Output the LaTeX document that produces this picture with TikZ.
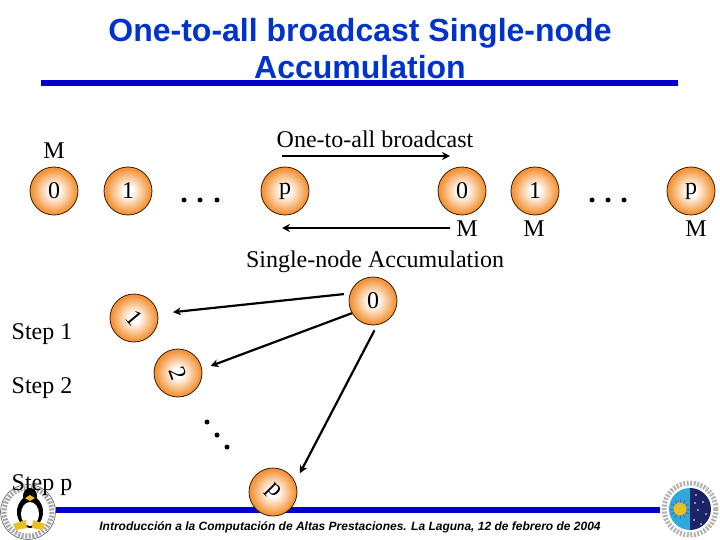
\documentclass[tikz,border=0pt]{standalone}
\usepackage{fontspec}
\setmainfont{Liberation Serif}
\newfontfamily\headfont{Liberation Sans}
\usetikzlibrary{arrows.meta}
\definecolor{BarBlue}{HTML}{0000CC}
\definecolor{TitleBlue}{HTML}{0033CC}
\definecolor{ProcOrange}{HTML}{F4953A}
\definecolor{ProcEdge}{HTML}{3A1A00}
\definecolor{LogoSky}{HTML}{2FA8DC}
\definecolor{LogoNavy}{HTML}{1B2466}
\definecolor{LogoGold}{HTML}{E8C020}
\pgfdeclareradialshading{procglow}{\pgfpoint{0bp}{0bp}}{%
  color(0bp)=(white);color(5bp)=(white);color(23bp)=(ProcOrange);color(50bp)=(ProcOrange)}
\tikzset{
  proc/.style={circle,draw=ProcEdge,line width=0.8pt,minimum size=48pt,inner sep=0pt,
               shading=procglow,font=\fontsize{24}{28}\selectfont},
  label/.style={font=\fontsize{24}{28}\selectfont,inner sep=0pt},
  headline/.style={text=TitleBlue,align=center,inner sep=0pt,
                   font=\headfont\fontsize{32}{37}\selectfont\bfseries},
  footline/.style={inner sep=0pt,font=\headfont\fontsize{12}{14}\selectfont\bfseries\itshape},
  flow/.style={-{Stealth[length=8pt,width=8pt]},black,line width=2.2pt},
  bar/.style={BarBlue,line width=6pt},
  dotmark/.style={fill=black,draw=none,circle,minimum size=5pt,inner sep=0pt},
}
\begin{document}
\begin{tikzpicture}[x=1pt,y=-1pt]
  \useasboundingbox (0,0) rectangle (720,540);

  \node[headline] (title) at (360,49) {One-to-all broadcast Single-node\\Accumulation};
  \draw[bar] (41,83.5) -- (678,83.5);
  \draw[bar] (50,510) -- (665,510);

  % upper row
  \node[label] (topm) at (54,151) {M};
  \node[proc] (na0) at (54,191) {0};
  \node[proc] (na1) at (128,191) {1};
  \node[proc] (nap) at (285,191) {p};
  \node[proc] (nb0) at (462,191) {0};
  \node[proc] (nb1) at (535,191) {1};
  \node[proc] (nbp) at (691,191) {p};
  \node[label] (mb0) at (467,229) {M};
  \node[label] (mb1) at (534,229) {M};
  \node[label] (mbp) at (696,229) {M};
  \foreach \x in {184,200,217,592,608,624}
    \node[dotmark] at (\x,200) {};

  \node[label] (bcast) at (375,139) {One-to-all broadcast};
  \node[label] (accum) at (375,262) {Single-node Accumulation};
  \coordinate (bcasta) at (282,156);
  \coordinate (bcastb) at (450,156);
  \coordinate (accuma) at (450,228);
  \coordinate (accumb) at (282,228);
  \draw[flow] (bcasta) -- (bcastb);
  \draw[flow] (accuma) -- (accumb);

  % steps
  \node[label] (step1) at (42,334) {Step 1};
  \node[label] (step2) at (42,388) {Step 2};
  \node[proc] (rt0) at (373,301) {0};
  \node[proc] (rt1) at (134,318) {\rotatebox{-50}{1}};
  \node[proc] (rt2) at (178,373) {\rotatebox{-70}{2}};
  \node[proc] (rtp) at (273,492) {\rotatebox{-45}{p}};
  \draw[flow,shorten <=6pt,shorten >=15pt] (rt0.162) -- (rt1.10);
  \draw[flow,shorten >=9pt] (rt0.210) -- (rt2.9);
  \draw[flow,shorten <=6pt,shorten >=10pt] (rt0.-80) -- (rtp.24);
  \foreach \x/\y in {207/422,217/435,227/447}
    \node[dotmark] at (\x,\y) {};

  % left logo
  \fill[white] (28,512) circle (28);
  \draw[gray!70,line width=5pt,dash pattern=on 2pt off 1.5pt] (28,512) circle (24);
  \draw[gray!70!black,line width=0.6pt] (28,512) circle (27.5);
  \fill[black] (30,496) ellipse (7 and 8);
  \fill[black] (30,512) ellipse (13 and 16);
  \fill[white] (30,514) ellipse (9 and 12);
  \fill[LogoGold] (30,495) -- (35,498) -- (30,501) -- (25,498) -- cycle;
  \fill[LogoGold] (13,524) -- (26,520) -- (27,528) -- (16,530) -- cycle;
  \fill[LogoGold] (45,524) -- (33,520) -- (32,528) -- (42,530) -- cycle;
  \node[label] (stepp) at (42,485) {Step p};

  % right logo
  \fill[white] (690,509) circle (30);
  \draw[gray!60,line width=5pt,dash pattern=on 2pt off 1.5pt] (690,509) circle (26);
  \fill[LogoSky] (690,488) arc (-90:-270:21) -- cycle;
  \fill[LogoNavy] (690,488) arc (-90:90:21) -- cycle;
  \foreach \x/\y in {696/495,703/502,698/510,706/514,694/520,701/524,695/503}
    \fill[white] (\x,\y) circle (0.9);
  \foreach \a in {0,30,...,330}
    \draw[LogoNavy!70,line width=0.8pt] (680,509) -- ++(\a:10);
  \fill[LogoGold] (680,509) circle (6.5);

  \node[footline] (foot) at (350,527) {Introducción a la Computación de Altas Prestaciones. La Laguna, 12 de febrero de 2004};
\end{tikzpicture}
\end{document}
